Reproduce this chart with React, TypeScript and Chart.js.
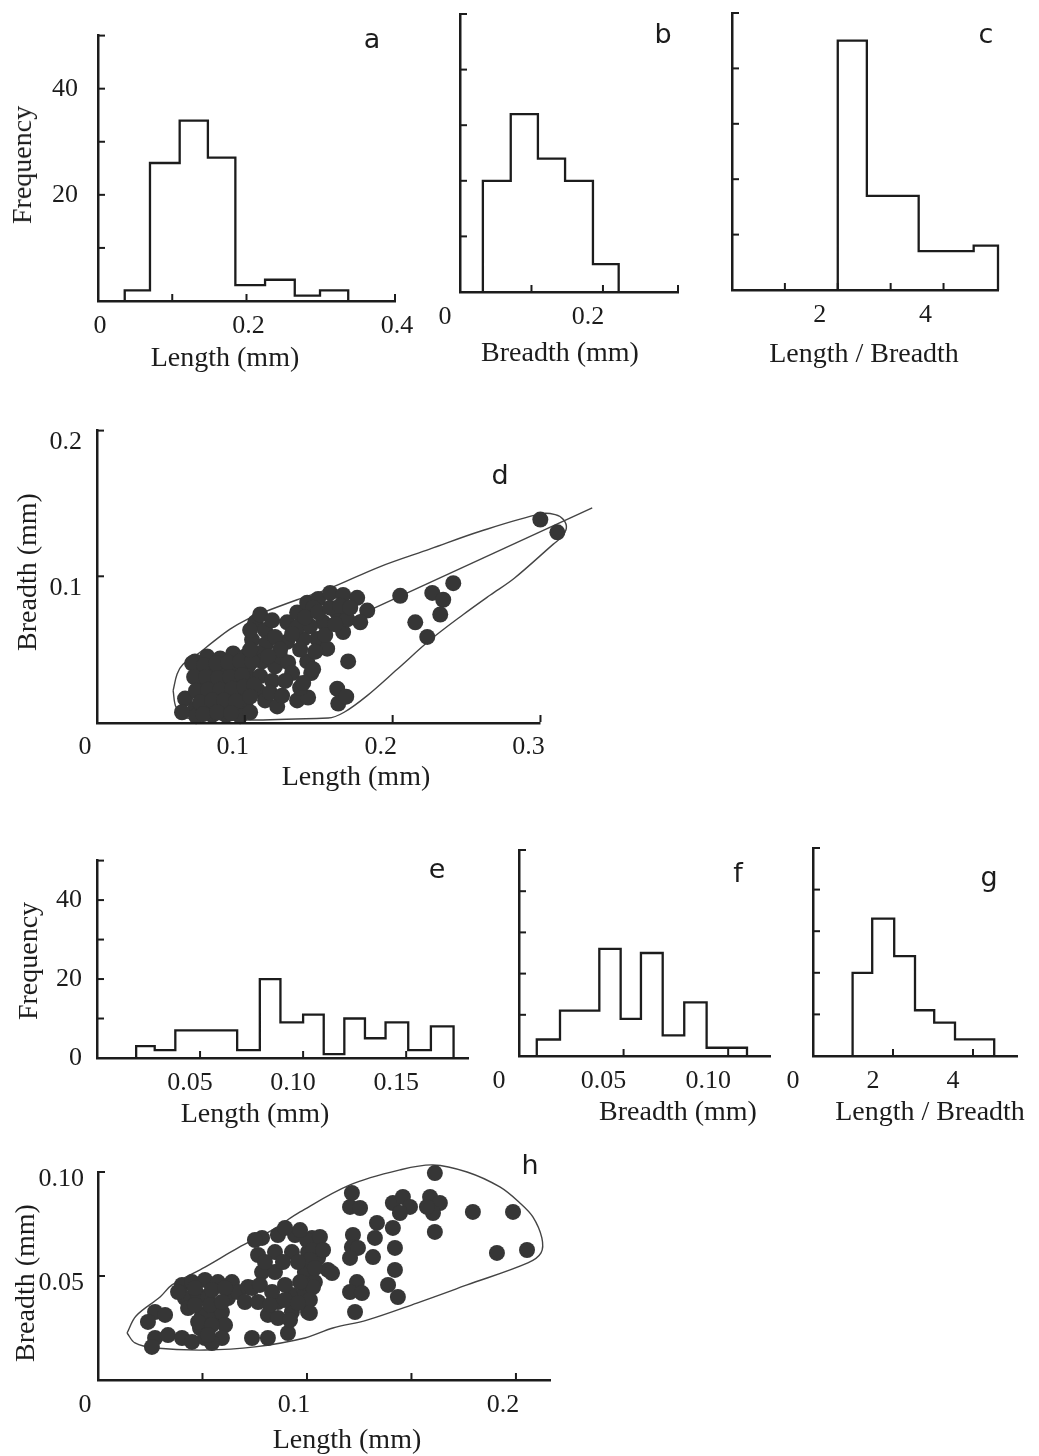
import React, { useEffect, useRef } from 'react';
import { Chart, registerables } from 'chart.js';

Chart.register(...registerables);

// ---------------- DATA ----------------
// (a) Length histogram – bin edges (mm) and frequencies
const aLengthEdges = [0.036, 0.07, 0.11, 0.148, 0.185, 0.225, 0.265, 0.299, 0.337];
const aCounts = [2, 26, 34, 27, 3, 4, 1, 2];
// (b) Breadth histogram
const bBreadthEdges = [0.032, 0.071, 0.109, 0.147, 0.186, 0.222];
const bCounts = [20, 32, 24, 20, 5];
// (c) Length / Breadth histogram
const cRatioEdges = [2.0, 2.55, 3.53, 4.57, 5.03];
const cCounts = [45, 17, 7, 8];
// (e) Length histogram
const eLengthEdges = [0.019, 0.028, 0.038, 0.068, 0.079, 0.089, 0.1, 0.11, 0.12, 0.13, 0.14, 0.151, 0.162, 0.173];
const eCounts = [3, 2, 7, 2, 20, 9, 11, 1, 10, 5, 9, 2, 8];
// (f) Breadth histogram
const fBreadthEdges = [0.0085, 0.0196, 0.0384, 0.0486, 0.0583, 0.0687, 0.079, 0.0897, 0.109];
const fCounts = [4, 11, 26, 9, 25, 5, 13, 2];
// (g) Length / Breadth histogram
const gRatioEdges = [0.99, 1.48, 2.03, 2.55, 3.03, 3.55, 4.53];
const gCounts = [20, 33, 24, 11, 8, 4];

// (d) scatter: length vs breadth (mm)
const dLength = [
  0.0596, 0.0663, 0.0575, 0.0663, 0.0745, 0.0833, 0.0921, 0.1002, 0.0684, 0.0765,
  0.0846, 0.0941, 0.1022, 0.0697, 0.0779, 0.0867, 0.0955, 0.1036, 0.0718, 0.0799,
  0.0887, 0.0975, 0.0745, 0.0833, 0.0914, 0.1002, 0.0779, 0.0873, 0.0968, 0.067,
  0.107, 0.1137, 0.1049, 0.1144, 0.109, 0.1117, 0.1205, 0.1104, 0.1185, 0.109,
  0.1239, 0.1137, 0.1219, 0.1354, 0.1428, 0.1374, 0.1449, 0.1422, 0.1293, 0.132,
  0.1625, 0.1632, 0.1686, 0.1699, 0.1286, 0.1354, 0.1422, 0.1496, 0.1577, 0.1665,
  0.1625, 0.153, 0.1489, 0.1395, 0.1286, 0.1557, 0.1665, 0.1693, 0.1354, 0.1442,
  0.176, 0.1828, 0.1781, 0.1462, 0.1395, 0.1462, 0.2051, 0.2268, 0.2342, 0.241,
  0.2322, 0.2153, 0.2234, 0.2999, 0.3114,
  0.0643, 0.0724, 0.0806, 0.0887, 0.0968, 0.1049, 0.0657, 0.0738, 0.0819, 0.09,
  0.0982, 0.067, 0.0751, 0.0833, 0.0914, 0.0995, 0.1063, 0.0697, 0.0779, 0.086,
  0.0941, 0.1036, 0.0718, 0.0812, 0.0907, 0.1036, 0.1036, 0.1104, 0.1185, 0.1205,
  0.1239, 0.1158, 0.1273, 0.1171, 0.1252, 0.1036, 0.132, 0.1408, 0.1496, 0.1577,
  0.1544, 0.1645, 0.1713, 0.1611, 0.1476, 0.1374,
];
const dBreadth = [
  0.0161, 0.0087, 0.0067, 0.0416, 0.045, 0.0436, 0.047, 0.045, 0.0336, 0.0362,
  0.0349, 0.0369, 0.0382, 0.0255, 0.0275, 0.0262, 0.0282, 0.0295, 0.0174, 0.0195,
  0.0181, 0.0201, 0.0094, 0.0114, 0.0094, 0.0121, 0.0047, 0.0047, 0.004, 0.004,
  0.0684, 0.0631, 0.0564, 0.0537, 0.047, 0.0416, 0.0382, 0.0315, 0.0282, 0.0215,
  0.045, 0.0148, 0.0107, 0.0148, 0.0168, 0.0235, 0.0336, 0.0416, 0.0409, 0.0336,
  0.0228, 0.0127, 0.0174, 0.0416, 0.0684, 0.0752, 0.0819, 0.0845, 0.0886, 0.0872,
  0.0752, 0.0684, 0.057, 0.057, 0.055, 0.0503, 0.0617, 0.0705, 0.0651, 0.0658,
  0.0852, 0.0765, 0.0684, 0.0785, 0.0268, 0.0362, 0.0866, 0.0886, 0.0839, 0.0953,
  0.0738, 0.0684, 0.0584, 0.1389, 0.1302,
  0.0403, 0.0389, 0.0403, 0.0409, 0.0416, 0.0416, 0.0309, 0.0309, 0.0302, 0.0309,
  0.0322, 0.0215, 0.0221, 0.0221, 0.0228, 0.0242, 0.0255, 0.0134, 0.0148, 0.0148,
  0.0141, 0.0174, 0.0054, 0.0067, 0.006, 0.0067, 0.0631, 0.0738, 0.0698, 0.0584,
  0.0497, 0.045, 0.0282, 0.0201, 0.0181, 0.0497, 0.0604, 0.0718, 0.0752, 0.0785,
  0.0597, 0.0798, 0.0785, 0.0671, 0.0483, 0.0497,
];
// (d) envelope outline
const dEnvLength = [
  0.0515, 0.0542, 0.0582, 0.0677, 0.0785, 0.09, 0.1016, 0.1124, 0.1354, 0.1578,
  0.1916, 0.2255, 0.2593, 0.3006, 0.31, 0.3155, 0.3175, 0.3135, 0.3087, 0.2823,
  0.2661, 0.2478, 0.2255, 0.2031, 0.1828, 0.1672, 0.1564, 0.0603, 0.0535, 0.0515,
];
const dEnvBreadth = [
  0.0215, 0.0329, 0.0396, 0.0463, 0.055, 0.0638, 0.0705, 0.0752, 0.0839, 0.0919,
  0.1067, 0.1188, 0.1309, 0.143, 0.1423, 0.139, 0.1329, 0.1262, 0.1221, 0.0987,
  0.0872, 0.0738, 0.0564, 0.0362, 0.0181, 0.0067, 0.0027, 0.0027, 0.0101, 0.0215,
];
// (d) regression line end points
const dRegLength = [0.065, 0.335];
const dRegBreadth = [0.021, 0.147];

// (h) scatter: length vs breadth (mm)
const hLength = [
  0.0273, 0.0239, 0.0321, 0.0273, 0.0258, 0.0335, 0.0402, 0.045, 0.0402, 0.045,
  0.0512, 0.0574, 0.0641, 0.0416, 0.0478, 0.0526, 0.0431, 0.0622, 0.0498, 0.0488,
  0.0512, 0.056, 0.0593, 0.0608, 0.0593, 0.0545, 0.067, 0.0703, 0.0718, 0.0737,
  0.0813, 0.0909, 0.0785, 0.0861, 0.0943, 0.1024, 0.0766, 0.0847, 0.0928, 0.1005,
  0.0785, 0.0847, 0.099, 0.1053, 0.0737, 0.0766, 0.0813, 0.0861, 0.0928, 0.099,
  0.1038, 0.1005, 0.0928, 0.0861, 0.11, 0.1, 0.1029, 0.1062, 0.1077, 0.1014,
  0.0981, 0.1029, 0.1014, 0.1014, 0.112, 0.1215, 0.1206, 0.1254, 0.122, 0.1215,
  0.1244, 0.1206, 0.1239, 0.1206, 0.1263, 0.123, 0.1335, 0.1325, 0.1316, 0.1411,
  0.1459, 0.1493, 0.1445, 0.1411, 0.1421, 0.1421, 0.1388, 0.1435, 0.1589, 0.1636,
  0.1603, 0.1574, 0.1612, 0.1612, 0.1794, 0.1986, 0.1909, 0.2053,
  0.0751, 0.0895, 0.0967, 0.0799, 0.0885, 0.0957, 0.1038, 0.0775, 0.0833, 0.0895,
  0.0957, 0.0895, 0.0967, 0.0823, 0.0919, 0.0383, 0.0464, 0.0545, 0.0608, 0.0464,
  0.0536, 0.0593, 0.0479, 0.0545, 0.0526,
];
const hBreadth = [
  0.0327, 0.0279, 0.0313, 0.0202, 0.0159, 0.0216, 0.0202, 0.0183, 0.0457, 0.0471,
  0.0481, 0.0471, 0.0471, 0.0394, 0.0409, 0.0394, 0.0346, 0.0394, 0.0313, 0.025,
  0.0202, 0.0313, 0.0327, 0.0264, 0.0202, 0.0178, 0.0423, 0.0375, 0.0447, 0.0202,
  0.0202, 0.0226, 0.0683, 0.0697, 0.0697, 0.0683, 0.0601, 0.0615, 0.0615, 0.0615,
  0.0519, 0.0519, 0.0519, 0.0587, 0.0442, 0.0375, 0.0313, 0.0375, 0.0409, 0.0423,
  0.0471, 0.0327, 0.0327, 0.0298, 0.0529, 0.0673, 0.0625, 0.0688, 0.0625, 0.0577,
  0.0466, 0.0447, 0.0385, 0.0322, 0.0514, 0.0899, 0.0832, 0.0827, 0.0697, 0.0639,
  0.0635, 0.0587, 0.0471, 0.0423, 0.0418, 0.0327, 0.0755, 0.0683, 0.0591, 0.0851,
  0.088, 0.0832, 0.0803, 0.0731, 0.0635, 0.0529, 0.0457, 0.0399, 0.088, 0.0851,
  0.0803, 0.0832, 0.0712, 0.0995, 0.0808, 0.0808, 0.0611, 0.0625,
  0.0673, 0.0731, 0.0721, 0.0567, 0.0567, 0.0567, 0.0538, 0.0457, 0.0423, 0.0385,
  0.037, 0.0457, 0.0471, 0.0361, 0.0288, 0.0423, 0.0442, 0.0433, 0.0442, 0.0361,
  0.0361, 0.0375, 0.0279, 0.0264, 0.0216,
];
const hEnvLength = [
  0.0139, 0.0182, 0.0297, 0.0354, 0.0512, 0.067, 0.0833, 0.0967, 0.1206, 0.1445,
  0.1603, 0.1766, 0.1923, 0.2019, 0.2081, 0.2124, 0.212, 0.2057, 0.1766, 0.1526,
  0.1287, 0.1124, 0.099, 0.0751, 0.0512, 0.0273, 0.0177, 0.0139,
];
const hEnvBreadth = [
  0.0226, 0.0308, 0.0399, 0.0457, 0.0543, 0.0635, 0.0721, 0.0808, 0.0938, 0.101,
  0.1034, 0.1, 0.0928, 0.0851, 0.0784, 0.0683, 0.0611, 0.0563, 0.0457, 0.037,
  0.0288, 0.025, 0.0202, 0.0159, 0.0144, 0.0154, 0.0178, 0.0226,
];

// tick labels
const freqTicks = [20, 40];
const freqLabels = ['20', '40'];
const freqTicksWithZero = [0, 20, 40];
const freqLabelsWithZero = ['0', '20', '40'];
const freqInner = [10, 20, 30, 40, 50];
const aXTicks = [0, 0.2, 0.4];
const aXLabels = ['0', '0.2', '0.4'];
const bXTicks = [0, 0.2];
const bXLabels = ['0', '0.2'];
const cXTicks = [2, 4];
const cXLabels = ['2', '4'];
const dXTicks = [0, 0.1, 0.2, 0.3];
const dXLabels = ['0', '0.1', '0.2', '0.3'];
const dYTicks = [0.1, 0.2];
const dYLabels = ['0.1', '0.2'];
const eXTicks = [0.05, 0.1, 0.15];
const eXLabels = ['0.05', '0.10', '0.15'];
const fXTicks = [0, 0.05, 0.1];
const fXLabels = ['0', '0.05', '0.10'];
const gXTicks = [0, 2, 4];
const gXLabels = ['0', '2', '4'];
const hXTicks = [0, 0.1, 0.2];
const hXLabels = ['0', '0.1', '0.2'];
const hYTicks = [0.05, 0.1];
const hYLabels = ['0.05', '0.10'];

// ---------------- STYLE ----------------
const SERIF = '"Liberation Serif", "Times New Roman", serif';
const SANS = '"DejaVu Sans", "Noto Sans", sans-serif';
const INK = '#1c1c1c';
const DOT = '#363636';

Chart.defaults.font.family = SERIF;
Chart.defaults.color = INK;

const histPoints = (edges: number[], counts: number[]) => {
  const pts = [{ x: edges[0], y: 0 }];
  edges.forEach((e, i) => pts.push({ x: e, y: i < counts.length ? counts[i] : 0 }));
  return pts;
};
const pairs = (xs: number[], ys: number[]) => xs.map((x, i) => ({ x, y: ys[i] }));

const histDataset = (edges: number[], counts: number[]) => ({
  data: histPoints(edges, counts),
  showLine: true,
  stepped: 'before',
  borderColor: INK,
  borderWidth: 2.3,
  pointRadius: 0,
  fill: false,
  clip: false,
});
const dotsDataset = (xs: number[], ys: number[]) => ({
  data: pairs(xs, ys),
  showLine: false,
  pointRadius: 8,
  pointBackgroundColor: DOT,
  pointBorderWidth: 0,
  clip: false,
});
const curveDataset = (xs: number[], ys: number[], tension: number) => ({
  data: pairs(xs, ys),
  showLine: true,
  tension,
  borderColor: '#444',
  borderWidth: 1.4,
  pointRadius: 0,
  fill: false,
  clip: false,
});

// Inward tick marks, and (optionally) an x-axis base line that stops at a given value
const innerTicks = {
  id: 'innerTicks',
  afterDatasetsDraw(chart: any, _args: any, opts: any) {
    const { ctx, chartArea } = chart;
    const xs = chart.scales.x;
    const ys = chart.scales.y;
    const len = opts.length || 7;
    ctx.save();
    ctx.strokeStyle = INK;
    if (opts.xLineEnd !== undefined && opts.xLineEnd !== null) {
      ctx.lineWidth = 2.5;
      ctx.beginPath();
      ctx.moveTo(chartArea.left - 1, chartArea.bottom + 1.25);
      ctx.lineTo(xs.getPixelForValue(opts.xLineEnd), chartArea.bottom + 1.25);
      ctx.stroke();
    }
    ctx.lineWidth = 2;
    (opts.x || []).forEach((v: number) => {
      const px = xs.getPixelForValue(v);
      ctx.beginPath();
      ctx.moveTo(px, chartArea.bottom);
      ctx.lineTo(px, chartArea.bottom - len);
      ctx.stroke();
    });
    (opts.y || []).forEach((v: number) => {
      const py = ys.getPixelForValue(v);
      ctx.beginPath();
      ctx.moveTo(chartArea.left, py);
      ctx.lineTo(chartArea.left + len, py);
      ctx.stroke();
    });
    ctx.restore();
  },
};

type AxisSpec = {
  min: number;
  max: number;
  ticks: number[];
  labels: string[];
  show: boolean;
  pad: number;
  offset: number;
  inner: number[];
};
type PanelSpec = {
  canvas: [number, number, number, number];
  area: [number, number, number, number];
  x: AxisSpec;
  y: AxisSpec;
  xLineEnd?: number;
  datasets: any[];
};

const axis = (
  min: number, max: number, ticks: number[], labels: string[], show: boolean,
  pad: number, offset: number, inner: number[]
): AxisSpec => ({ min, max, ticks, labels, show, pad, offset, inner });

const panels: PanelSpec[] = [
  {
    canvas: [0, 0, 425, 385],
    area: [98, 28, 395, 301],
    x: axis(0, 0.4, aXTicks, aXLabels, true, 10, 2, [0.1, 0.2, 0.4]),
    y: axis(0, 50, freqTicks, freqLabels, true, 20, 0, freqInner),
    datasets: [histDataset(aLengthEdges, aCounts)],
  },
  {
    canvas: [425, 0, 700, 385],
    area: [460, 14, 678, 292],
    x: axis(0, 0.305, bXTicks, bXLabels, true, 10, -15, [0.1, 0.2, 0.305]),
    y: axis(0, 50, [0], [''], false, 10, 0, freqInner),
    datasets: [histDataset(bBreadthEdges, bCounts)],
  },
  {
    canvas: [700, 0, 1039, 385],
    area: [732, 13, 998, 290],
    x: axis(0, 5.03, cXTicks, cXLabels, true, 10, -18, [1, 2, 3, 4, 5.03]),
    y: axis(0, 50, [0], [''], false, 10, 0, freqInner),
    datasets: [histDataset(cRatioEdges, cCounts)],
  },
  {
    canvas: [0, 400, 620, 800],
    area: [97, 424, 607, 722],
    x: axis(0, 0.345, dXTicks, dXLabels, true, 10, -12, [0.1, 0.2, 0.3]),
    y: axis(0, 0.2, dYTicks, dYLabels, true, 15, 12, [0.1, 0.2]),
    xLineEnd: 0.3,
    datasets: [
      dotsDataset(dLength, dBreadth),
      curveDataset(dEnvLength, dEnvBreadth, 0.35),
      curveDataset(dRegLength, dRegBreadth, 0),
    ],
  },
  {
    canvas: [0, 830, 490, 1130],
    area: [97, 854, 468, 1058],
    x: axis(0, 0.18, eXTicks, eXLabels, true, 10, -10, [0.05, 0.1, 0.15]),
    y: axis(0, 50, freqTicksWithZero, freqLabelsWithZero, true, 15, 0, freqInner),
    datasets: [histDataset(eLengthEdges, eCounts)],
  },
  {
    canvas: [490, 830, 780, 1130],
    area: [519, 850, 770, 1056],
    x: axis(0, 0.12, fXTicks, fXLabels, true, 10, -20, [0.05, 0.1]),
    y: axis(0, 50, [0], [''], false, 10, 0, freqInner),
    datasets: [histDataset(fBreadthEdges, fCounts)],
  },
  {
    canvas: [780, 830, 1039, 1130],
    area: [813, 848, 1017, 1056],
    x: axis(0, 5.1, gXTicks, gXLabels, true, 10, -20, [2, 4]),
    y: axis(0, 50, [0], [''], false, 10, 0, freqInner),
    datasets: [histDataset(gRatioEdges, gCounts)],
  },
  {
    canvas: [0, 1140, 600, 1456],
    area: [98, 1172, 550, 1380],
    x: axis(0, 0.2163, hXTicks, hXLabels, true, 10, -13, [0.05, 0.1, 0.15, 0.2]),
    y: axis(0, 0.1, hYTicks, hYLabels, true, 14, 7, [0.05, 0.1]),
    datasets: [dotsDataset(hLength, hBreadth), curveDataset(hEnvLength, hEnvBreadth, 0.35)],
  },
];

type TextSpec = { text: string; x: number; y: number; rotate?: boolean; letter?: boolean };
const texts: TextSpec[] = [
  { text: 'Frequency', x: 22, y: 165, rotate: true },
  { text: 'Length (mm)', x: 225, y: 357 },
  { text: 'Breadth (mm)', x: 560, y: 352 },
  { text: 'Length / Breadth', x: 864, y: 353 },
  { text: 'Breadth (mm)', x: 27, y: 572, rotate: true },
  { text: 'Length (mm)', x: 356, y: 776 },
  { text: 'Frequency', x: 28, y: 961, rotate: true },
  { text: 'Length (mm)', x: 255, y: 1113 },
  { text: 'Breadth (mm)', x: 678, y: 1111 },
  { text: 'Length / Breadth', x: 930, y: 1111 },
  { text: 'Breadth (mm)', x: 25, y: 1283, rotate: true },
  { text: 'Length (mm)', x: 347, y: 1439 },
  { text: 'a', x: 372, y: 38, letter: true },
  { text: 'b', x: 663, y: 33, letter: true },
  { text: 'c', x: 986, y: 33, letter: true },
  { text: 'd', x: 500, y: 474, letter: true },
  { text: 'e', x: 437, y: 868, letter: true },
  { text: 'f', x: 738, y: 872, letter: true },
  { text: 'g', x: 989, y: 876, letter: true },
  { text: 'h', x: 530, y: 1164, letter: true },
];

const scaleConfig = (spec: AxisSpec, isX: boolean, size: number, drawBorder: boolean) => ({
  type: 'linear',
  min: spec.min,
  max: spec.max,
  afterFit: (s: any) => {
    if (isX) s.height = size;
    else s.width = size;
  },
  afterBuildTicks: (s: any) => {
    s.ticks = spec.ticks.map((v) => ({ value: v }));
  },
  ticks: {
    display: spec.show,
    autoSkip: false,
    maxRotation: 0,
    minRotation: 0,
    padding: spec.pad,
    labelOffset: spec.offset,
    color: INK,
    font: { family: SERIF, size: 26 },
    callback: (_v: any, i: number) => spec.labels[i],
  },
  grid: { display: false, drawTicks: false },
  border: { display: drawBorder, color: INK, width: 2.5 },
});

function PanelChart({ spec }: { spec: PanelSpec }) {
  const ref = useRef<HTMLCanvasElement | null>(null);
  const [cl, ct, cr, cb] = spec.canvas;
  const [al, at, ar, ab] = spec.area;
  useEffect(() => {
    if (!ref.current) return;
    const chart = new Chart(ref.current, {
      type: 'scatter',
      data: { datasets: spec.datasets },
      plugins: [innerTicks],
      options: {
        animation: false,
        responsive: false,
        maintainAspectRatio: false,
        devicePixelRatio: 1,
        layout: { padding: { top: at - ct, right: cr - ar, left: 0, bottom: 0 } },
        plugins: {
          legend: { display: false },
          tooltip: { enabled: false },
          innerTicks: { x: spec.x.inner, y: spec.y.inner, length: 7, xLineEnd: spec.xLineEnd },
        },
        scales: {
          x: scaleConfig(spec.x, true, cb - ab, spec.xLineEnd === undefined),
          y: scaleConfig(spec.y, false, al - cl, true),
        },
      } as any,
    } as any);
    return () => chart.destroy();
  }, [spec]);
  return (
    <canvas
      ref={ref}
      width={cr - cl}
      height={cb - ct}
      style={{ position: 'absolute', left: cl, top: ct, width: cr - cl, height: cb - ct }}
    />
  );
}

export default function App() {
  return (
    <div
      style={{
        position: 'absolute',
        left: 0,
        top: 0,
        width: 1039,
        height: 1456,
        background: '#ffffff',
        overflow: 'hidden',
      }}
    >
      {panels.map((p, i) => (
        <PanelChart key={i} spec={p} />
      ))}
      {texts.map((t, i) => (
        <div
          key={'t' + i}
          style={{
            position: 'absolute',
            left: t.x,
            top: t.y,
            transform: `translate(-50%, -50%)${t.rotate ? ' rotate(-90deg)' : ''}`,
            fontFamily: t.letter ? SANS : SERIF,
            fontSize: t.letter ? 27 : 28,
            lineHeight: 1,
            color: INK,
            whiteSpace: 'nowrap',
          }}
        >
          {t.text}
        </div>
      ))}
    </div>
  );
}
